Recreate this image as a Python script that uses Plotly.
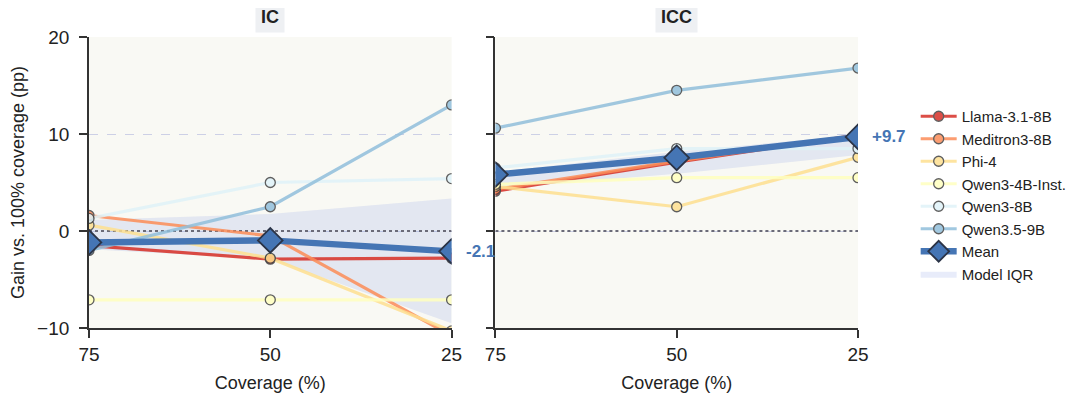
import numpy as np
import plotly.graph_objects as go
from plotly.subplots import make_subplots

coverage = [75, 50, 25]
models = ["Llama-3.1-8B", "Meditron3-8B", "Phi-4", "Qwen3-4B-Inst.", "Qwen3-8B", "Qwen3.5-9B"]
colors = ["#d73027", "#fc8d59", "#fee090", "#ffffbf", "#e0f3f8", "#91bfdb"]

ic_llama = [-1.5, -2.9, -2.8]
ic_meditron = [1.6, -0.5, -10.8]
ic_phi4 = [0.6, -2.8, -10.3]
ic_qwen4b = [-7.1, -7.1, -7.1]
ic_qwen8b = [1.3, 5.0, 5.4]
ic_qwen9b = [-2.0, 2.5, 13.0]

icc_llama = [4.1, 7.1, 9.9]
icc_meditron = [4.3, 7.2, 9.9]
icc_phi4 = [4.6, 2.5, 7.6]
icc_qwen4b = [4.8, 5.5, 5.5]
icc_qwen8b = [6.5, 8.5, 8.5]
icc_qwen9b = [10.6, 14.5, 16.8]

panels = [
    ("IC", [ic_llama, ic_meditron, ic_phi4, ic_qwen4b, ic_qwen8b, ic_qwen9b]),
    ("ICC", [icc_llama, icc_meditron, icc_phi4, icc_qwen4b, icc_qwen8b, icc_qwen9b]),
]

mean_color = "#4575b4"
font_family = "Liberation Sans, Arial, sans-serif"

fig = make_subplots(rows=1, cols=2, shared_yaxes=False, horizontal_spacing=0.057)

for ci, (title, series) in enumerate(panels, start=1):
    arr = np.array(series)
    q1 = np.percentile(arr, 25, axis=0)
    q3 = np.percentile(arr, 75, axis=0)
    mean = arr.mean(axis=0)
    # IQR band
    fig.add_trace(go.Scatter(
        x=coverage + coverage[::-1], y=list(q3) + list(q1[::-1]),
        fill="toself", fillcolor="rgba(120,140,225,0.17)", line=dict(width=0),
        mode="lines", name="Model IQR", showlegend=(ci == 2), legendrank=900,
        hoverinfo="skip"), row=1, col=ci)
    # zero line
    fig.add_trace(go.Scatter(
        x=[75, 25], y=[0, 0], mode="lines",
        line=dict(color="#6b6b78", width=2.2, dash="dot"),
        showlegend=False, hoverinfo="skip"), row=1, col=ci)
    for k, (name, vals) in enumerate(zip(models, series)):
        fig.add_trace(go.Scatter(
            x=coverage, y=vals, mode="lines+markers", name=name,
            line=dict(color=colors[k], width=3.2), opacity=0.85,
            marker=dict(size=10, color=colors[k], line=dict(color="#444", width=1.3)),
            showlegend=(ci == 2), legendrank=100 + k), row=1, col=ci)
    fig.add_trace(go.Scatter(
        x=coverage, y=list(mean), mode="lines+markers", name="Mean",
        line=dict(color=mean_color, width=6.5),
        marker=dict(symbol="diamond", size=19, color=mean_color, line=dict(color="#2b3447", width=1.8)),
        showlegend=(ci == 2), legendrank=800), row=1, col=ci)
    last = mean[-1]
    fig.add_annotation(x=25, y=last, xref=f"x{'' if ci == 1 else ci}", yref=f"y{'' if ci == 1 else ci}",
                       text=f"<b>{last:+.1f}</b>", showarrow=False, xanchor="left", xshift=12,
                       font=dict(size=17, color=mean_color, family=font_family))
    fig.add_annotation(x=0.5, y=1.0, xref=f"x{'' if ci == 1 else ci} domain", yref="paper",
                       text=f"<b>{title}</b>", showarrow=False, yanchor="bottom", yshift=4,
                       bgcolor="#eef0f3", borderpad=5,
                       font=dict(size=18, color="#222", family=font_family))

axis_common = dict(showline=True, linecolor="#333", linewidth=1.8, ticks="outside",
                   ticklen=8, tickwidth=1.8, tickcolor="#333", mirror=False, automargin=False)
for ci in (1, 2):
    fig.update_xaxes(range=[75, 25], tickvals=coverage, ticktext=[str(c) for c in coverage],
                     showgrid=False, zeroline=False,
                     title=dict(text="Coverage (%)", font=dict(size=18, color="#222"), standoff=13),
                     tickfont=dict(size=19, color="#222"), **axis_common, row=1, col=ci)
    fig.update_yaxes(range=[-10, 20], tickvals=[-10, 0, 10, 20],
                     showgrid=True, gridcolor="#cdd1e6", griddash="dash", gridwidth=1,
                     zeroline=False, showticklabels=(ci == 1), ticklabelstandoff=6,
                     ticktext=["\u221210", "0", "10", "20"],
                     tickfont=dict(size=19, color="#222"), **axis_common, row=1, col=ci)
fig.update_yaxes(title=dict(text="Gain vs. 100% coverage (pp)", font=dict(size=18, color="#222"), standoff=8),
                 row=1, col=1)

# page body has an 8px margin: figure is 8px smaller and shifted
fig.update_layout(
    width=1070, height=388,
    margin=dict(l=81, r=220, t=29, b=68, autoexpand=False),
    paper_bgcolor="white", plot_bgcolor="#f9f9f4",
    font=dict(family=font_family, color="#222"),
    legend=dict(x=1.075, xanchor="left", y=0.457, yanchor="middle",
                font=dict(size=15, color="#222"), tracegroupgap=0,
                bgcolor="rgba(255,255,255,0)", itemwidth=36),
    showlegend=True,
)

fig.write_html("out.html")
